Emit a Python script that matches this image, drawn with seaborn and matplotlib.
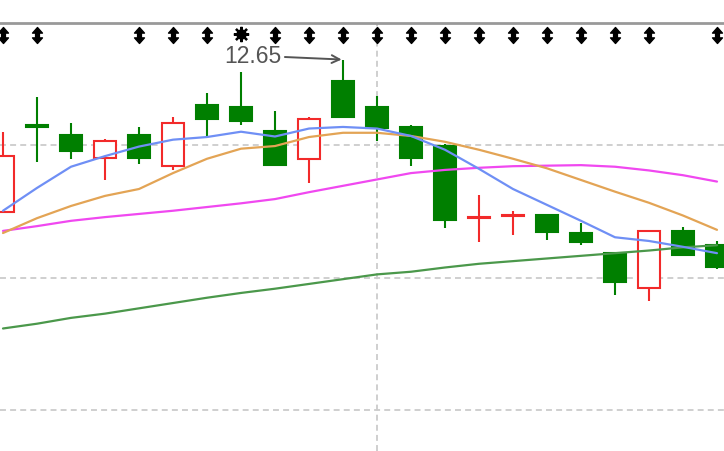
import numpy as np
import pandas as pd
import matplotlib
matplotlib.use("Agg")
import matplotlib.pyplot as plt
import seaborn as sns
from matplotlib.path import Path

# ---------------- data ----------------
days = list(range(22))
opens  = [12.363, 12.526, 12.507, 12.464, 12.508, 12.449, 12.565, 12.560, 12.516, 12.463, 12.610,
          12.560, 12.522, 12.488, 12.352, 12.355, 12.357, 12.323, 12.285, 12.219, 12.327, 12.300]
highs  = [12.514, 12.580, 12.531, 12.500, 12.522, 12.541, 12.587, 12.626, 12.554, 12.541, 12.650,
          12.581, 12.527, 12.490, 12.395, 12.364, 12.357, 12.342, 12.285, 12.327, 12.334, 12.308]
lows   = [12.363, 12.457, 12.463, 12.423, 12.453, 12.442, 12.502, 12.527, 12.452, 12.417, 12.542,
          12.497, 12.449, 12.332, 12.306, 12.320, 12.309, 12.300, 12.206, 12.195, 12.279, 12.256]
closes = [12.469, 12.523, 12.478, 12.497, 12.464, 12.530, 12.538, 12.535, 12.452, 12.538, 12.542,
          12.521, 12.464, 12.348, 12.354, 12.357, 12.324, 12.306, 12.230, 12.327, 12.282, 12.259]

ma5  = [12.365, 12.408, 12.448, 12.468, 12.486, 12.499, 12.504, 12.514, 12.505, 12.520, 12.523,
        12.520, 12.506, 12.480, 12.444, 12.406, 12.376, 12.346, 12.315, 12.308, 12.297, 12.285]
ma10 = [12.323, 12.351, 12.374, 12.393, 12.406, 12.436, 12.463, 12.482, 12.487, 12.504, 12.512,
        12.512, 12.506, 12.495, 12.480, 12.463, 12.445, 12.423, 12.401, 12.380, 12.356, 12.329]
ma20 = [12.327, 12.336, 12.346, 12.353, 12.359, 12.365, 12.372, 12.379, 12.387, 12.400, 12.412,
        12.424, 12.436, 12.442, 12.446, 12.449, 12.450, 12.451, 12.448, 12.441, 12.432, 12.420]
ma60 = [12.143, 12.152, 12.163, 12.171, 12.181, 12.191, 12.201, 12.210, 12.218, 12.227, 12.236,
        12.245, 12.250, 12.258, 12.265, 12.270, 12.275, 12.280, 12.285, 12.290, 12.296, 12.300]

arrow_days = [0, 1, 4, 5, 6, 8, 9, 10, 11, 12, 13, 14, 15, 16, 17, 18, 19, 21]
sun_days = [7]
peak_day = 10
peak_label = "12.65"
grid_levels = [12.489, 12.239, 11.989]
vline_day = 11
y_range = (11.912, 12.719)
x_range = (-0.088, 21.206)

# ---------------- style ----------------
sns.set_theme(style="white")
plt.rcParams['font.family'] = ['Liberation Sans', 'DejaVu Sans']

RED = "#f22a2a"
GREEN = "#007f00"
ma_colors = {"MA5": "#6f8ff5", "MA10": "#e3a455", "MA20": "#f048f0", "MA60": "#4b984b"}

fig = plt.figure(figsize=(7.24, 4.52), dpi=100)
ax = fig.add_axes([0, 0, 1, 428 / 452])
ax.set_xlim(*x_range)
ax.set_ylim(*y_range)

# grid
ax.set_yticks(grid_levels)
ax.set_xticks([vline_day])
ax.grid(True, color="#cccccc", linestyle=(0, (3.3, 2.3)), linewidth=1.3)
ax.set_axisbelow(True)
ax.tick_params(length=0, labelleft=False, labelbottom=False)
for s in ["left", "right", "bottom"]:
    ax.spines[s].set_visible(False)
ax.spines["top"].set_color("#999999")
ax.spines["top"].set_linewidth(2)

# candles
width = 0.62
for d, o, h, l, c in zip(days, opens, highs, lows, closes):
    up = c >= o
    col = RED if up else GREEN
    top, bot = max(o, c), min(o, c)
    ax.vlines(d, top, h, color=col, linewidth=1.5, zorder=2)
    ax.vlines(d, l, bot, color=col, linewidth=1.5, zorder=2)
    hgt = max(top - bot, 0.0005)
    ax.bar(d, hgt, bottom=bot, width=width,
           facecolor="white" if up else GREEN, edgecolor=col, linewidth=1.5, zorder=2)

# moving averages
df = pd.DataFrame({"day": days, "MA5": ma5, "MA10": ma10, "MA20": ma20, "MA60": ma60})
long = df.melt(id_vars="day", var_name="ma", value_name="price")
sns.lineplot(data=long, x="day", y="price", hue="ma", palette=ma_colors,
             hue_order=["MA60", "MA20", "MA10", "MA5"], linewidth=1.6,
             legend=False, ax=ax, zorder=3)
ax.set_xlabel("")
ax.set_ylabel("")
ax.set_xlim(*x_range)
ax.set_ylim(*y_range)

# event markers along the top
arrow_marker = Path([(0, 1), (0.62, 0.3), (0.24, 0.3), (0.24, -0.3), (0.62, -0.3),
                     (0, -1), (-0.62, -0.3), (-0.24, -0.3), (-0.24, 0.3), (-0.62, 0.3), (0, 1)],
                    closed=True)
tr = ax.get_xaxis_transform()
ax.plot(arrow_days, [0.972] * len(arrow_days), transform=tr, linestyle="none",
        marker=arrow_marker, markersize=11.5, color="black", markeredgewidth=1.0,
        clip_on=False, zorder=5)
ax.plot(sun_days, [0.975] * len(sun_days), transform=tr, linestyle="none",
        marker="o", markersize=6.5, color="black", clip_on=False, zorder=5)
ax.plot(sun_days, [0.975] * len(sun_days), transform=tr, linestyle="none",
        marker=(8, 2, 0), markersize=11, color="black", markeredgewidth=1.6,
        clip_on=False, zorder=5)

# peak annotation
ax.annotate(peak_label, xy=(peak_day, highs[peak_day]), xytext=(-90, 4),
            textcoords="offset pixels", ha="center", va="center",
            fontsize=16.5, color="#555555",
            arrowprops=dict(arrowstyle="->", color="#555555", lw=1.4,
                            shrinkA=0, shrinkB=1, mutation_scale=14),
            zorder=6)

fig.savefig("out.png", dpi=100)
